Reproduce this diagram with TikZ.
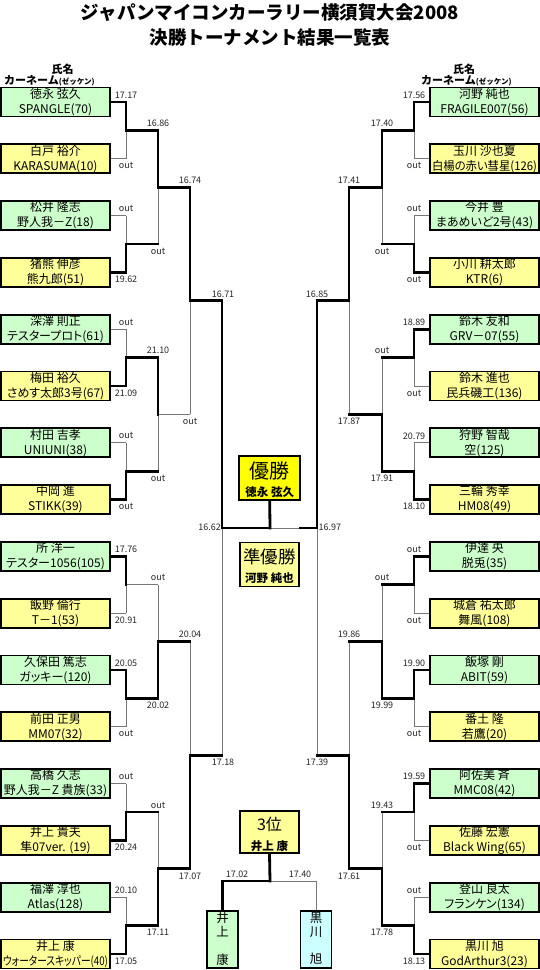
\documentclass[tikz,border=0pt]{standalone}
\usepackage{fontspec}
\usepackage{graphicx}
\setmainfont{Noto Sans CJK JP}
\newfontfamily\jpp[RawFeature=+palt]{Noto Sans CJK JP}
\usetikzlibrary{calc}
\definecolor{bgreen}{HTML}{CCFFCC}
\definecolor{byellow}{HTML}{FFFF99}
\definecolor{bwin}{HTML}{FFFF00}
\definecolor{bblue}{HTML}{CCFFFF}
\definecolor{lgray}{HTML}{777777}
\pgfdeclarelayer{bgl}\pgfdeclarelayer{midl}\pgfsetlayers{bgl,midl,main}
\newsavebox\fitbox
\newcommand\fitw[1]{\sbox\fitbox{#1}\ifdim\wd\fitbox>105pt\resizebox{105pt}{\height}{#1}\else\usebox\fitbox\fi}
\newcommand\sg[2]{\if#1T\begin{pgfonlayer}{midl}\draw[thk] #2;\end{pgfonlayer}\else\begin{pgfonlayer}{bgl}\draw[thn] #2;\end{pgfonlayer}\fi}
\newcommand\mt[8]{\pgfmathsetmacro\ymid{(#3+#4)/2}%
 \sg{#5}{(#1,#3) -- (#2,#3)}\sg{#6}{(#2,#3) -- (#2,\ymid)}%
 \sg{#7}{(#1,#4) -- (#2,#4)}\sg{#8}{(#2,#4) -- (#2,\ymid)}}
\tikzset{
 pbox/.style={draw, line width=1.7pt, minimum width=109pt, minimum height=29pt, inner sep=0pt, align=center, font=\jpp\fontsize{12}{15}\selectfont},
 gbox/.style={pbox, fill=bgreen},
 ybox/.style={pbox, fill=byellow},
 cbox/.style={draw, line width=1.7pt, inner sep=0pt},
 thk/.style={line width=2.8pt, line cap=rect},
 thn/.style={line width=1pt, draw=lgray},
 lab/.style={font=\fontsize{9}{10}\selectfont, inner sep=0pt, text=black!85},
 hdr/.style={font=\bfseries\fontsize{11}{12}\selectfont, inner sep=0pt},
}
\begin{document}
\begin{tikzpicture}[x=1pt,y=-1pt]
\useasboundingbox (0,0) rectangle (540,970);
% title
\node[font=\bfseries\fontsize{18.5}{23}\selectfont, inner sep=0pt] (t1) at (270,13) {ジャパンマイコンカーラリー横須賀大会2008};
\node[font=\bfseries\fontsize{18.5}{23}\selectfont, inner sep=0pt] (t2) at (270,37) {決勝トーナメント結果一覧表};
% headers
\node[hdr] (hl1) at (62.5,69) {氏名};
\node[hdr, anchor=west] (hl2) at (4,80.5) {カーネーム{\fontsize{7.5}{8}\selectfont(ゼッケン)}};
\node[hdr] (hr1) at (464,69) {氏名};
\node[hdr, anchor=west] (hr2) at (421,80.5) {カーネーム{\fontsize{7.5}{8}\selectfont(ゼッケン)}};
% left boxes
\node[gbox] (L0) at (55.5,102) {\fitw{徳永 弦久}\\\fitw{SPANGLE(70)}};
\node[ybox] (L1) at (55.5,158.8) {\fitw{白戸 裕介}\\\fitw{KARASUMA(10)}};
\node[gbox] (L2) at (55.5,215.6) {\fitw{松井 隆志}\\\fitw{野人我－Z(18)}};
\node[ybox] (L3) at (55.5,272.4) {\fitw{猪熊 伸彦}\\\fitw{熊九郎(51)}};
\node[gbox] (L4) at (55.5,329.2) {\fitw{深澤 則正}\\\fitw{テスタープロト(61)}};
\node[ybox] (L5) at (55.5,386) {\fitw{梅田 裕久}\\\fitw{さめす太郎3号(67)}};
\node[gbox] (L6) at (55.5,442.8) {\fitw{村田 吉孝}\\\fitw{UNIUNI(38)}};
\node[ybox] (L7) at (55.5,499.6) {\fitw{中岡 進}\\\fitw{STIKK(39)}};
\node[gbox] (L8) at (55.5,556.4) {\fitw{所 洋一}\\\fitw{テスター1056(105)}};
\node[ybox] (L9) at (55.5,613.2) {\fitw{飯野 倫行}\\\fitw{T－1(53)}};
\node[gbox] (L10) at (55.5,670) {\fitw{久保田 篤志}\\\fitw{ガッキー(120)}};
\node[ybox] (L11) at (55.5,726.8) {\fitw{前田 正男}\\\fitw{MM07(32)}};
\node[gbox] (L12) at (55.5,783.6) {\fitw{高橋 久志}\\\fitw{野人我－Z 貴族(33)}};
\node[ybox] (L13) at (55.5,840.4) {\fitw{井上 貴夫}\\\fitw{隼07ver. (19)}};
\node[gbox] (L14) at (55.5,897.2) {\fitw{福澤 淳也}\\\fitw{Atlas(128)}};
\node[ybox] (L15) at (55.5,954) {\fitw{井上 康}\\\fitw{ウォータースキッパー(40)}};
% right boxes
\node[gbox] (R0) at (484.5,102) {\fitw{河野 純也}\\\fitw{FRAGILE007(56)}};
\node[ybox] (R1) at (484.5,158.8) {\fitw{玉川 沙也夏}\\\fitw{白楊の赤い彗星(126)}};
\node[gbox] (R2) at (484.5,215.6) {\fitw{今井 豊}\\\fitw{まあめいど2号(43)}};
\node[ybox] (R3) at (484.5,272.4) {\fitw{小川 耕太郎}\\\fitw{KTR(6)}};
\node[gbox] (R4) at (484.5,329.2) {\fitw{鈴木 友和}\\\fitw{GRV－07(55)}};
\node[ybox] (R5) at (484.5,386) {\fitw{鈴木 進也}\\\fitw{民兵磯工(136)}};
\node[gbox] (R6) at (484.5,442.8) {\fitw{狩野 智哉}\\\fitw{空(125)}};
\node[ybox] (R7) at (484.5,499.6) {\fitw{三輪 秀幸}\\\fitw{HM08(49)}};
\node[gbox] (R8) at (484.5,556.4) {\fitw{伊達 央}\\\fitw{脱兎(35)}};
\node[ybox] (R9) at (484.5,613.2) {\fitw{城倉 祐太郎}\\\fitw{舞風(108)}};
\node[gbox] (R10) at (484.5,670) {\fitw{飯塚 剛}\\\fitw{ABIT(59)}};
\node[ybox] (R11) at (484.5,726.8) {\fitw{番土 隆}\\\fitw{若鷹(20)}};
\node[gbox] (R12) at (484.5,783.6) {\fitw{阿佐美 斉}\\\fitw{MMC08(42)}};
\node[ybox] (R13) at (484.5,840.4) {\fitw{佐藤 宏憲}\\\fitw{Black Wing(65)}};
\node[gbox] (R14) at (484.5,897.2) {\fitw{登山 良太}\\\fitw{フランケン(134)}};
\node[ybox] (R15) at (484.5,954) {\fitw{黒川 旭}\\\fitw{GodArthur3(23)}};
% center boxes
\node[cbox, fill=bwin, minimum width=61pt, minimum height=44pt] (win) at (269.7,478) {};
\node[inner sep=0pt, font=\fontsize{20}{22}\selectfont] (wint) at (269.7,470.5) {優勝};
\node[inner sep=0pt, font=\bfseries\fontsize{11.5}{12}\selectfont] (winn) at (269.7,492) {徳永 弦久};
\node[cbox, fill=byellow, minimum width=59pt, minimum height=44pt] (sec) at (269.5,564.5) {};
\node[inner sep=0pt, font=\fontsize{17.5}{19}\selectfont] (sect) at (269.5,556.5) {準優勝};
\node[inner sep=0pt, font=\bfseries\fontsize{11.5}{12}\selectfont] (secn) at (269.5,578) {河野 純也};
\node[cbox, fill=byellow, minimum width=59pt, minimum height=42pt] (third) at (269.5,832) {};
\node[inner sep=0pt, font=\fontsize{16}{18}\selectfont] (thirdt) at (269.5,824.5) {3位};
\node[inner sep=0pt, font=\bfseries\fontsize{11.5}{12}\selectfont] (thirdn) at (269.5,846) {井上 康};
\node[cbox, fill=bgreen, minimum width=31pt, minimum height=57pt] (iwb) at (222.5,939.5) {};
\node[inner sep=0pt, anchor=north, align=center, font=\fontsize{12.5}{13.8}\selectfont] (iwbt) at (222.5,912) {井\\上\\　\\康};
\node[cbox, fill=bblue, minimum width=31pt, minimum height=57pt] (kwb) at (316,939.5) {};
\node[inner sep=0pt, anchor=north, align=center, font=\fontsize{12.5}{13.8}\selectfont] (kwbt) at (316,912) {黒\\川\\　\\旭};
% left bracket
\mt{110.5}{126}{102}{158.8}{T}{T}{t}{t}
\mt{110.5}{126}{215.6}{272.4}{t}{t}{T}{T}
\mt{110.5}{126}{329.2}{386}{t}{t}{T}{T}
\mt{110.5}{126}{442.8}{499.6}{t}{t}{T}{T}
\mt{110.5}{126}{556.4}{613.2}{T}{T}{t}{t}
\mt{110.5}{126}{670}{726.8}{T}{T}{t}{t}
\mt{110.5}{126}{783.6}{840.4}{t}{t}{T}{T}
\mt{110.5}{126}{897.2}{954}{t}{t}{T}{T}
\mt{126}{158}{130.4}{244}{T}{T}{T}{t}
\mt{126}{158}{357.6}{471.2}{T}{T}{T}{t}
\mt{126}{158}{584.8}{698.4}{t}{t}{T}{T}
\mt{126}{158}{812}{925.6}{T}{t}{T}{T}
\mt{158}{190}{187.2}{414.4}{T}{T}{t}{t}
\mt{158}{190}{641.6}{868.8}{T}{t}{T}{T}
\mt{190}{222}{300.8}{755.2}{T}{T}{T}{t}
% right bracket
\mt{429.5}{414}{102}{158.8}{T}{T}{t}{t}
\mt{429.5}{414}{215.6}{272.4}{t}{t}{T}{T}
\mt{429.5}{414}{329.2}{386}{T}{T}{t}{t}
\mt{429.5}{414}{442.8}{499.6}{t}{t}{T}{T}
\mt{429.5}{414}{556.4}{613.2}{T}{T}{t}{t}
\mt{429.5}{414}{670}{726.8}{T}{T}{t}{t}
\mt{429.5}{414}{783.6}{840.4}{T}{T}{t}{t}
\mt{429.5}{414}{897.2}{954}{t}{t}{T}{T}
\mt{414}{382}{130.4}{244}{T}{T}{T}{t}
\mt{414}{382}{357.6}{471.2}{T}{t}{T}{T}
\mt{414}{382}{584.8}{698.4}{T}{t}{T}{T}
\mt{414}{382}{812}{925.6}{T}{t}{T}{T}
\mt{382}{349}{187.2}{414.4}{T}{T}{T}{t}
\mt{382}{349}{641.6}{868.8}{T}{t}{T}{T}
\mt{349}{317}{300.8}{755.2}{T}{T}{T}{t}
% final
\coordinate (fj) at (270,528);
\sg{T}{(222,528) -- (fj)}
\sg{t}{(fj) -- (300,528)}
\sg{T}{(300,528) -- (317,528)}
\sg{T}{(win.south) -- (fj)}
% third place
\coordinate (tj) at (270,881);
\sg{T}{(third.south) -- (tj)}
\sg{T}{(tj) -- (iwb.north |- tj) -- (iwb.north)}
\sg{t}{(tj) -- (kwb.north |- tj) -- (kwb.north)}
% labels
\foreach \x/\y/\t [count=\i] in {
126/95/17.17,126/165.8/out,126/208.6/out,126/279.4/19.62,126/322.2/out,126/393/21.09,126/435.8/out,126/506.6/out,
126/549.4/17.76,126/620.2/20.91,126/663/20.05,126/733.8/out,126/776.6/out,126/847.4/20.24,126/890.2/20.10,126/961/17.05,
158/123.4/16.86,158/251/out,158/350.6/21.10,158/478.2/out,158/577.8/out,158/705.4/20.02,158/805/out,158/932.6/17.11,
190/180.2/16.74,190/421.4/out,190/634.6/20.04,190/875.8/17.07,223/293.8/16.71,223/762.2/17.18,
414/95/17.56,414/165.8/out,414/208.6/out,414/279.4/out,414/322.2/18.89,414/393/out,414/435.8/20.79,414/506.6/18.10,
414/549.4/out,414/620.2/out,414/663/19.90,414/733.8/out,414/776.6/19.59,414/847.4/out,414/890.2/out,414/961/18.13,
382/123.4/17.40,382/251/out,382/350.6/out,382/478.2/17.91,382/577.8/out,382/705.4/19.99,382/805/19.43,382/932.6/17.78,
349/180.2/17.41,349/421.4/17.87,349/634.6/19.86,349/875.8/17.61,317/293.8/16.85,317/762.2/17.39,
237/874/17.02,300/874/17.40}
 {\node[lab] (lab\i) at (\x,\y) {\t};}
\node[lab, anchor=east] (l1662) at (221,527) {16.62};
\node[lab, anchor=west] (l1697) at (318.5,527) {16.97};
\end{tikzpicture}
\end{document}
